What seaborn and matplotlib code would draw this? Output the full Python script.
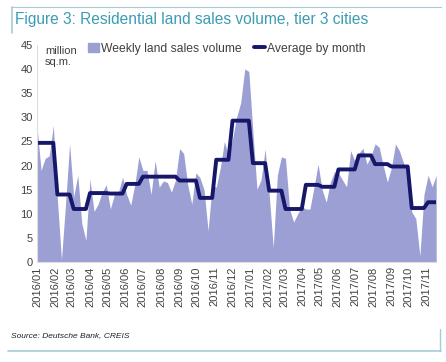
import numpy as np
import pandas as pd
import matplotlib
matplotlib.use("Agg")
import matplotlib.pyplot as plt
from matplotlib.lines import Line2D
from matplotlib.patches import Patch
import seaborn as sns

# --- data ---
# weekly land sales volume, million sq.m. (one value per week from 2016-01-01)
weekly_volume = [
    28, 19, 21.5, 22, 28.3, 13, 0.5, 12, 24.5, 13.5,
    18, 8, 4.5, 17.2, 10.5, 12, 14.5, 16, 11, 14,
    14.5, 17.6, 14, 11.8, 16, 21.8, 19, 19, 14, 21,
    15.5, 16.8, 16.5, 14.5, 17, 23.5, 22.5, 16, 12, 18.5,
    17.5, 15, 6.5, 16, 15.5, 19.5, 25, 22, 25.5, 30,
    33, 40, 39.5, 27, 15.1, 17, 23.4, 14, 3, 18,
    21.8, 21.5, 11, 8.3, 10, 11.5, 11, 11, 15.5, 20.3,
    15, 12.4, 16.5, 18.7, 18.5, 17, 15.6, 23.1, 21, 22.5,
    23.6, 20.3, 22, 24.5, 23.8, 20, 16.6, 19.5, 24.5, 23,
    20.5, 18.7, 10.4, 9, 1.3, 14, 18, 15.6, 18,
]
month_labels = [
    "2016/01", "2016/02", "2016/03", "2016/04", "2016/05", "2016/06",
    "2016/07", "2016/08", "2016/09", "2016/10", "2016/11", "2016/12",
    "2017/01", "2017/02", "2017/03", "2017/04", "2017/05", "2017/06",
    "2017/07", "2017/08", "2017/09", "2017/10", "2017/11",
]
monthly_avg = [
    24.7, 14.0, 11.0, 14.3, 14.2, 16.2, 17.7, 17.7, 16.9, 13.3, 21.2, 29.3,
    20.5, 14.8, 11.0, 16.0, 15.6, 19.2, 22.1, 20.3, 19.8, 11.2, 12.4,
]

weeks = pd.date_range("2016-01-01", periods=len(weekly_volume), freq="7D")
df = pd.DataFrame({"week": weeks, "volume": weekly_volume})
df["month"] = df["week"].dt.strftime("%Y/%m")
avg_map = dict(zip(month_labels, monthly_avg))
df["avg"] = df["month"].map(avg_map)

fill_col = "#9c9fd3"
line_col = "#16166a"
text_col = "#404040"

sns.set_style("white")
plt.rcParams["font.family"] = ["Arial", "Liberation Sans", "DejaVu Sans"]

fig = plt.figure(figsize=(4.46, 3.62), dpi=100)
ax = fig.add_axes([0.083, 0.276, 0.895, 0.6])

ax.fill_between(df["week"], df["volume"], 0, color=fill_col, lw=0)
sns.lineplot(data=df, x="week", y="avg", ax=ax, color=line_col, lw=2.8)

ax.set_ylim(0, 45)
ax.set_yticks(range(0, 46, 5))
ax.set_xlim(df["week"].iloc[0], df["week"].iloc[-1])
ticks = pd.to_datetime([m.replace("/", "-") + "-01" for m in month_labels])
ax.set_xticks(ticks)
ax.set_xticklabels(month_labels, rotation=90)
ax.tick_params(axis="both", labelsize=8, colors=text_col, length=0, pad=3)
ax.set_xlabel("")
ax.set_ylabel("")
for s in ["top", "right"]:
    ax.spines[s].set_visible(False)
for s in ["left", "bottom"]:
    ax.spines[s].set_color("#dddddd")
    ax.spines[s].set_linewidth(0.8)

ax.text(0.02, 0.995, "million\nsq.m.", transform=ax.transAxes, va="top",
        ha="left", fontsize=8, color=text_col, linespacing=1.1)
handles = [Patch(color=fill_col), Line2D([0], [0], color=line_col, lw=2.8)]
ax.legend(handles, ["Weekly land sales volume", "Average by month"],
          loc="upper left", bbox_to_anchor=(0.128, 1.01), ncol=2, frameon=False,
          fontsize=8.7, handlelength=0.9, handletextpad=0.2, columnspacing=1.0,
          borderpad=0, borderaxespad=0, labelcolor=text_col)

fig.text(0.034, 0.945, "Figure 3: Residential land sales volume, tier 3 cities",
         fontsize=11.2, color="#3c9cb4", va="center", ha="left")
fig.text(0.025, 0.072, "Source: Deutsche Bank, CREIS", fontsize=6,
         style="italic", color="#222222", va="center", ha="left")

frame_col = "#a9cbd6"
fig.add_artist(Line2D([0.025, 0.988], [0.98, 0.98], color=frame_col, lw=0.8))
fig.add_artist(Line2D([0.027, 0.027], [0.98, 0.91], color=frame_col, lw=1.2))
fig.add_artist(Line2D([0.018, 0.988], [0.03, 0.03], color=frame_col, lw=1.2))
fig.add_artist(Line2D([0.986, 0.986], [0.03, 0.09], color=frame_col, lw=1.0))

fig.savefig("out.png", dpi=100)
